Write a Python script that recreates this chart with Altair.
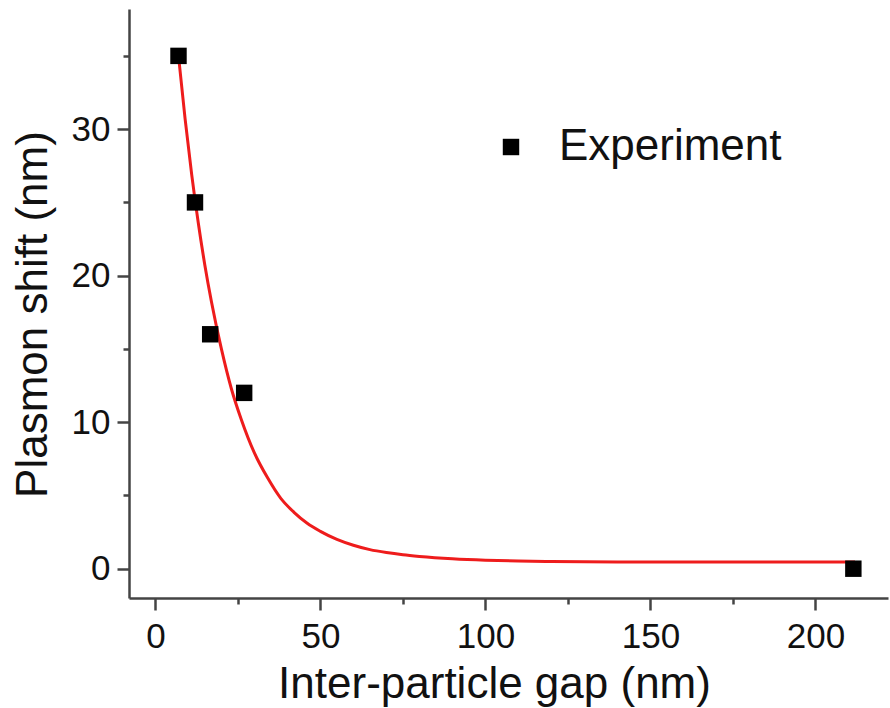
import altair as alt
import pandas as pd

# Measured plasmon shift vs. inter-particle gap
gap_nm = [7, 12, 16.6, 26.9, 211.5]
shift_nm = [35, 25, 16, 12, 0]

# Exponential-decay fit curve, sampled along the drawn line
fit_gap = [7, 9, 11, 13, 15, 17, 20, 23, 26, 30, 34, 38, 42, 46, 50, 55, 60,
           65, 70, 75, 80, 90, 100, 110, 120, 140, 160, 212]
fit_shift = [35.0, 30.7, 26.9, 23.6, 20.7, 18.2, 15.0, 12.3, 10.2, 7.9, 6.2,
             4.8, 3.85, 3.1, 2.55, 2.0, 1.6, 1.3, 1.1, 0.95, 0.84, 0.68,
             0.58, 0.52, 0.49, 0.46, 0.45, 0.45]

x_ticks = [0, 25, 50, 75, 100, 125, 150, 175, 200]
y_ticks = [0, 5, 10, 15, 20, 25, 30, 35]

FONT = "Liberation Sans, Arial, Helvetica, sans-serif"
AXIS_COLOR = "#444444"

points = pd.DataFrame({"gap": gap_nm, "shift": shift_nm,
                       "series": ["Experiment"] * len(gap_nm)})
fit = pd.DataFrame({"gap": fit_gap, "shift": fit_shift})

x_scale = alt.Scale(domain=[-8, 222], nice=False, zero=False)
y_scale = alt.Scale(domain=[-2, 38.2], nice=False, zero=False)

common_axis = dict(
    grid=False,
    domainColor=AXIS_COLOR,
    domainWidth=2.5,
    tickColor=AXIS_COLOR,
    tickWidth=2.5,
    labelFont=FONT,
    labelFontSize=35,
    labelColor="#111111",
    labelOverlap=False,
    titleFont=FONT,
    titleFontSize=44,
    titleFontWeight="normal",
    titleColor="#111111",
)

x_axis = alt.Axis(
    values=x_ticks,
    tickSize={"condition": {"test": "datum.value % 50 === 0", "value": 12}, "value": 6},
    labelExpr="datum.value % 50 === 0 ? datum.label : ''",
    labelPadding=9,
    title="Inter-particle gap (nm)",
    titleX=365,
    titleY=99,
    titleAlign="center",
    titleBaseline="alphabetic",
    **common_axis,
)

y_axis = alt.Axis(
    values=y_ticks,
    tickSize={"condition": {"test": "datum.value % 10 === 0", "value": 12}, "value": 6},
    labelExpr="datum.value % 10 === 0 ? datum.label : ''",
    labelPadding=7,
    title="Plasmon shift (nm)",
    titleX=-83,
    titleY=305,
    titleAngle=270,
    titleAlign="center",
    titleBaseline="alphabetic",
    **common_axis,
)

curve = alt.Chart(fit).mark_line(
    color="#ee1c1c", strokeWidth=3, interpolate="monotone"
).encode(
    x=alt.X("gap:Q", scale=x_scale, axis=x_axis),
    y=alt.Y("shift:Q", scale=y_scale, axis=y_axis),
)

markers = alt.Chart(points).mark_point(
    shape="square", filled=True, size=270, opacity=1
).encode(
    x=alt.X("gap:Q", scale=x_scale),
    y=alt.Y("shift:Q", scale=y_scale),
    color=alt.Color(
        "series:N",
        scale=alt.Scale(domain=["Experiment"], range=["#000000"]),
        legend=alt.Legend(
            orient="none",
            legendX=360,
            legendY=116,
            title=None,
            symbolType="square",
            symbolSize=270,
            symbolStrokeWidth=0,
            labelFont=FONT,
            labelFontSize=44,
            labelColor="#111111",
            labelOffset=26,
            labelLimit=0,
            padding=0,
        ),
    ),
)

chart = alt.layer(curve, markers).properties(
    width=759,
    height=589,
    autosize=alt.AutoSizeParams(type="none"),
    padding={"left": 129, "top": 9, "right": 2, "bottom": 110},
    background="white",
).configure_view(stroke=None)

chart.save("out.html", embed_options={"renderer": "svg", "actions": False})
